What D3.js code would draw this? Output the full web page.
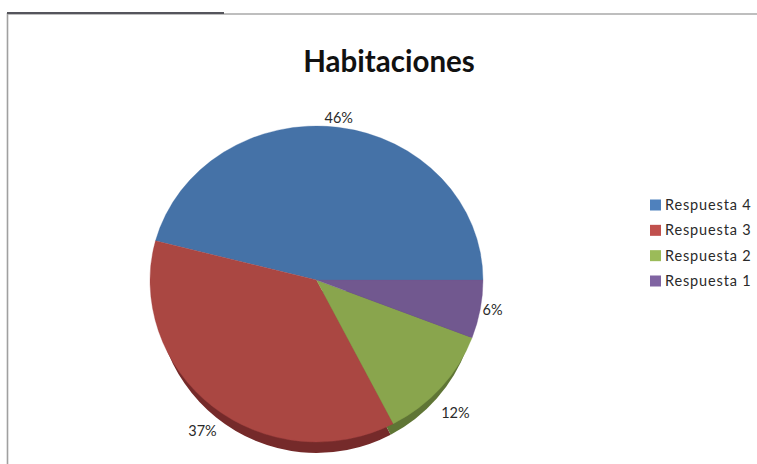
<!DOCTYPE html>
<html><head><meta charset="utf-8">
<script src="https://cdnjs.cloudflare.com/ajax/libs/d3/7.8.5/d3.min.js"></script>
<style>html,body{margin:0;padding:0;background:#fff}svg{display:block}</style></head>
<body><svg id="c" width="757" height="464"></svg>
<script>
const chartTitle = "Habitaciones";
const categories = ["Respuesta 4","Respuesta 3","Respuesta 2","Respuesta 1"];
const values = [46.0, 36.8, 11.6, 5.8];
const labels = ["46%","37%","12%","6%"];
const colors = ["#4572a7","#aa4643","#89a54e","#71588f"];
const legendColors = ["#4f81bd","#c0504d","#9bbb59","#8064a2"];
const sideColors = ["#2f4f75","#752b2a","#5e7434","#4d3c63"];

const svg = d3.select("#c");
const W = 757, H = 464;
const cx = 316.5, cy = 280, R = 100;
const sx = 166.5/R, syTop = 154/R, syBottom = 162/R, depth = 11;

const defs = svg.append("defs");
defs.append("filter").attr("id","soft").append("feGaussianBlur").attr("stdDeviation",0.5);
defs.append("clipPath").attr("id","upper").append("rect").attr("x",-W).attr("y",-H).attr("width",2*W).attr("height",H);
defs.append("clipPath").attr("id","lower").append("rect").attr("x",-W).attr("y",0).attr("width",2*W).attr("height",H);

// frame of the scanned page
svg.append("line").attr("x1",7.5).attr("x2",757).attr("y1",14).attr("y2",14).attr("stroke","#a8a8a8").attr("stroke-width",1.4);
svg.append("line").attr("x1",7.5).attr("x2",7.5).attr("y1",13).attr("y2",H).attr("stroke","#a0a0a0").attr("stroke-width",1.6);
svg.append("line").attr("x1",7).attr("x2",224).attr("y1",13).attr("y2",13).attr("stroke","#55555c").attr("stroke-width",1.8);

svg.append("text").attr("x",389).attr("y",71.5).attr("text-anchor","middle")
  .attr("font-family","Lato").attr("font-weight",700).attr("font-size",29.5).attr("fill","#111").text(chartTitle);

const pie = d3.pie().sort(null).startAngle(Math.PI/2 + 2*Math.PI).endAngle(Math.PI/2);
const arcs = pie(values);
const arc = d3.arc().innerRadius(0).outerRadius(R);

const g = svg.append("g").attr("filter","url(#soft)");
// side wall: narrower ellipse, so it only shows along the lower rim
g.append("g").attr("transform",`translate(${cx},${cy+depth}) scale(${sx*0.965},${syBottom})`)
  .attr("clip-path","url(#lower)")
  .selectAll("path").data(arcs).join("path").attr("d",arc).attr("fill",(d,i)=>sideColors[i]);
// faces
[["upper",syTop],["lower",syBottom]].forEach(([clip,sy])=>{
  g.append("g").attr("transform",`translate(${cx},${cy}) scale(${sx},${sy})`)
    .attr("clip-path",`url(#${clip})`)
    .selectAll("path").data(arcs).join("path").attr("d",arc).attr("fill",(d,i)=>colors[i])
    .attr("stroke",(d,i)=>colors[i]).attr("stroke-width",0.2);
});

// data labels, placed along each slice's mid angle outside the rim
const labelReachX = [1.04, 1.097, 1.117, 1.075];
const labelReachY = [1.034, 1.22, 1.27, 1.05];
const rxMid = 166.5, ryMid = 158;
svg.append("g").selectAll("text").data(arcs).join("text")
  .attr("x",(d,i)=>cx + labelReachX[i]*rxMid*Math.sin((d.startAngle+d.endAngle)/2))
  .attr("y",(d,i)=>cy - labelReachY[i]*ryMid*Math.cos((d.startAngle+d.endAngle)/2))
  .attr("dy","0.35em").attr("text-anchor","middle")
  .attr("font-family","Lato").attr("font-size",14.5).attr("fill","#2a2a2a").text((d,i)=>labels[i]);

// legend
const legendY = d3.scalePoint().domain(categories).range([205,281]);
const lg = svg.append("g").selectAll("g").data(categories).join("g")
  .attr("transform",d=>`translate(650,${legendY(d)})`);
lg.append("rect").attr("x",0).attr("y",-5.5).attr("width",11).attr("height",11).attr("fill",(d,i)=>legendColors[i]);
lg.append("text").attr("x",15).attr("dy","0.35em").attr("font-family","Lato").attr("font-size",14.5)
  .attr("letter-spacing",0.85).attr("fill","#2a2a2a").text(d=>d);
</script></body></html>
